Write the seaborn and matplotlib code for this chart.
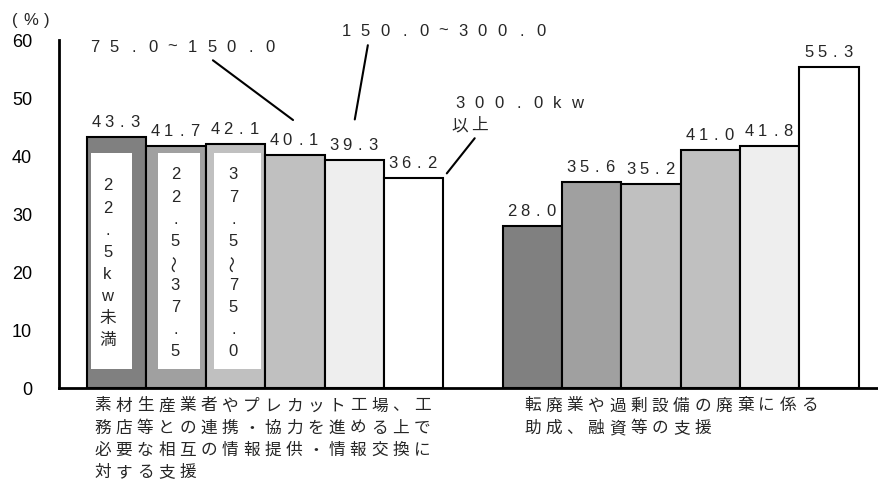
import matplotlib
matplotlib.use("Agg")
import matplotlib.pyplot as plt
from matplotlib.patches import Rectangle
import pandas as pd
import seaborn as sns

# ---- data -------------------------------------------------------------
size_classes = ["22.5kw未満", "22.5~37.5", "37.5~75.0",
                "75.0~150.0", "150.0~300.0", "300.0kw以上"]
support_types = [
    "素材生産業者やプレカット工場、工\n務店等との連携・協力を進める上で\n必要な相互の情報提供・情報交換に\n対する支援",
    "転廃業や過剰設備の廃棄に係る\n助成、融資等の支援",
]
values_cooperation = [43.3, 41.7, 42.1, 40.1, 39.3, 36.2]
values_closure = [28.0, 35.6, 35.2, 41.0, 41.8, 55.3]
bar_colors = ["#808080", "#a0a0a0", "#c0c0c0", "#c0c0c0", "#eeeeee", "#ffffff"]
y_ticks = [0, 10, 20, 30, 40, 50, 60]
unit_label = "(%)"

# ---- layout -----------------------------------------------------------
DPI = 100
PX = 72 / DPI            # points per pixel
GROUP_STEP = len(size_classes) + 1   # one empty slot between the groups
BAR_PX = 59.4                        # width of one bar slot in pixels

rows = []
for g, (name, vals) in enumerate(zip(support_types, [values_cooperation, values_closure])):
    for k, (size, v) in enumerate(zip(size_classes, vals)):
        rows.append({"group": name, "size": size, "value": v,
                     "pos": g * GROUP_STEP + k})
df = pd.DataFrame(rows)

sns.set_style("white")
plt.rcParams["font.family"] = ["Liberation Sans", "Noto Sans CJK JP"]
plt.rcParams["axes.unicode_minus"] = False

fig = plt.figure(figsize=(879 / DPI, 481 / DPI), dpi=DPI)
ax = fig.add_axes([0.0666, 0.1913, 0.9334, 0.7235])

sns.barplot(data=df, x="pos", y="value", hue="size", hue_order=size_classes,
            palette=dict(zip(size_classes, bar_colors)), native_scale=True,
            width=1.0, dodge=False, errorbar=None, legend=False,
            edgecolor="black", linewidth=1.5, ax=ax)

ax.set_xlim(-0.98, 12.84)
ax.set_ylim(0, 60)
ax.set_yticks(y_ticks)
ax.set_xticks([])
ax.set_xlabel("")
ax.set_ylabel("")
ax.tick_params(axis="y", direction="in", length=5, width=1.5, pad=19,
               labelsize=13, colors="black")
for side in ("top", "right"):
    ax.spines[side].set_visible(False)
for side in ("left", "bottom"):
    ax.spines[side].set_linewidth(2)
    ax.spines[side].set_color("black")


def grid_text(xy, text, pitch, line_pitch=0.0, xycoords="data",
              centered=False, vertical=False, offset=(0.0, 0.0), size=12):
    """Write text on a fixed character grid (pitch and offsets in pixels)."""
    for r, line in enumerate(text.split("\n")):
        n = len(line)
        start = -(n - 1) / 2 * pitch if centered else 0.0
        for i, ch in enumerate(line):
            step = start + i * pitch
            if vertical:
                dx, dy = 0.0, -step
            else:
                dx, dy = step, -r * line_pitch
            rot = 0
            if vertical and ch == "~":
                ch, rot = "〜", 90
            ax.annotate(ch, xy=xy, xycoords=xycoords,
                        xytext=((dx + offset[0]) * PX, (dy + offset[1]) * PX),
                        textcoords="offset points", ha="center",
                        va="center_baseline", fontsize=size, rotation=rot,
                        annotation_clip=False, zorder=5)


# value labels above each bar
for _, row in df.iterrows():
    grid_text((row["pos"], row["value"]), f"{row['value']:.1f}", 13,
              centered=True, offset=(-1, 17))

# white label panels inside the first three bars of the first group
panels = [(-0.433, 0.258), (-0.30, 0.41), (-0.367, 0.43)]
panel_bottom, panel_top = 3.35, 40.5
for k, (lo, hi) in enumerate(panels):
    ax.add_patch(Rectangle((k + lo, panel_bottom), hi - lo,
                           panel_top - panel_bottom, facecolor="white",
                           edgecolor="none", zorder=3))
    cx = k + (lo + hi) / 2 - 4 / BAR_PX
    grid_text((cx, (panel_bottom + panel_top) / 2), size_classes[k], 22.1,
              centered=True, vertical=True)

# callout labels for the remaining size classes
callouts = [
    (3, (-0.374, 59.1), (1.62, 56.5), (2.97, 46.2)),
    (4, (3.862, 61.9), (4.23, 59.1), (4.01, 46.3)),
    (5, (5.782, 49.45), (6.03, 43.06), (5.56, 37.0)),
]
for k, anchor, p0, p1 in callouts:
    grid_text(anchor, size_classes[k].replace("kw", "kw\n"), 19.5,
              line_pitch=22)
    ax.plot([p0[0], p1[0]], [p0[1], p1[1]], color="black", lw=1.5,
            clip_on=False, zorder=5)

# category labels under each group
label_x = [-0.24, 7.0]
for x, name in zip(label_x, support_types):
    grid_text((x, 0), name, 21.3, line_pitch=22.3,
              xycoords=("data", "axes fraction"), offset=(0, -15.5))

# unit label
grid_text((0, 1), unit_label, 16, xycoords="axes fraction", offset=(-44, 22))

fig.savefig("out.png", dpi=DPI)
